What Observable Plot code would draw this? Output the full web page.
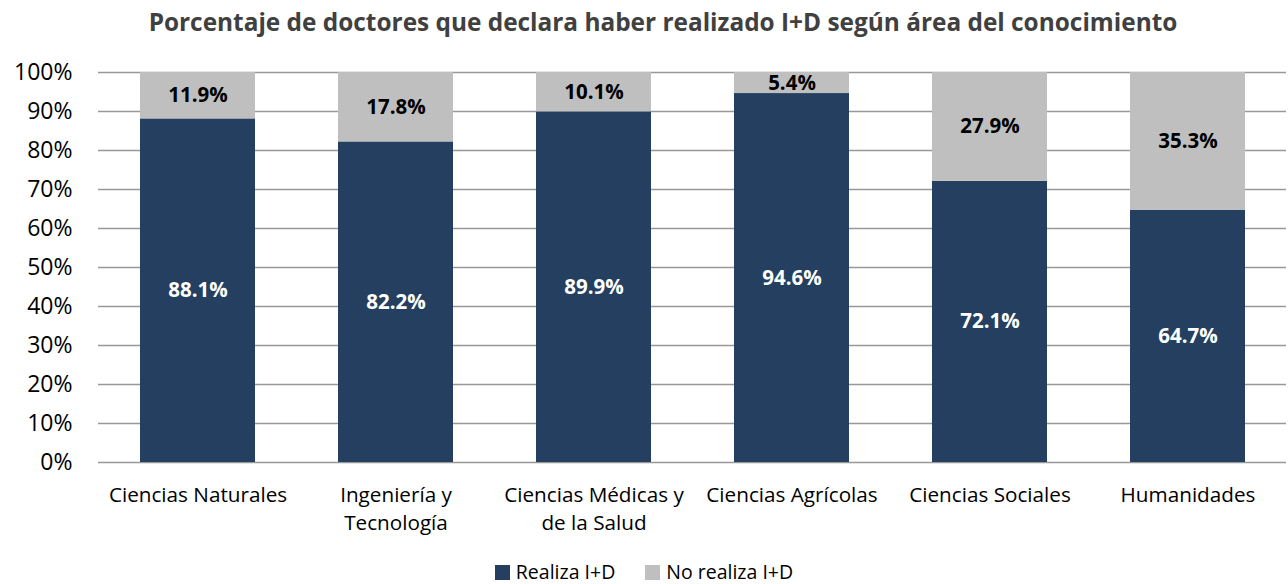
<!DOCTYPE html>
<html>
<head>
<meta charset="utf-8">
<script src="https://cdn.jsdelivr.net/npm/d3@7"></script>
<script src="https://cdn.jsdelivr.net/npm/@observablehq/plot@0.6"></script>
<style>
  body { margin: 0; background: #fff; font-family: "Open Sans", sans-serif; overflow: hidden; }
  #title { height: 44px; line-height: 44px; text-align: center; font-weight: bold; font-size: 24.4px; color: #404040; white-space: nowrap; padding-left: 38px; }
  #chart svg { display: block; }
  #legend { display: flex; justify-content: center; gap: 30px; margin-top: 17px; font-size: 19.5px; line-height: 22px; height: 22px; color: #000; }
  #legend span.sw { display: inline-block; width: 15px; height: 15px; margin-right: 6px; vertical-align: -1px; }
</style>
</head>
<body>
<div id="title">Porcentaje de doctores que declara haber realizado I+D según área del conocimiento</div>
<div id="chart"></div>
<div id="legend"></div>
<script>
const categories = ["Ciencias Naturales", "Ingeniería y\nTecnología", "Ciencias Médicas y\nde la Salud", "Ciencias Agrícolas", "Ciencias Sociales", "Humanidades"];
const series = ["Realiza I+D", "No realiza I+D"];
const realiza = [88.1, 82.2, 89.9, 94.6, 72.1, 64.7];
const noRealiza = [11.9, 17.8, 10.1, 5.4, 27.9, 35.3];
const yTicks = [0, 10, 20, 30, 40, 50, 60, 70, 80, 90, 100];
const colors = ["#243f60", "#bfbfbf"];
const labelColors = ["#ffffff", "#000000"];

const data = [];
categories.forEach((c, i) => {
  data.push({cat: c, series: series[0], value: realiza[i]});
  data.push({cat: c, series: series[1], value: noRealiza[i]});
});

const chart = Plot.plot({
  width: 1288,
  height: 500,
  marginTop: 28,
  marginBottom: 82,
  marginLeft: 98,
  marginRight: 2,
  style: {fontFamily: "Open Sans, sans-serif", color: "#000", background: "#fff"},
  x: {domain: categories, paddingInner: 0.42, paddingOuter: 0.21, label: null},
  y: {domain: [0, 100], label: null},
  color: {domain: series, range: colors},
  marks: [
    Plot.ruleY(yTicks, {stroke: "#989898", strokeWidth: 1.3}),
    Plot.barY(data, Plot.stackY({x: "cat", y: "value", fill: "series", order: series})),
    Plot.text(data, Plot.stackY({
      x: "cat", y: "value", z: "series", order: series,
      text: d => d.value.toFixed(1) + "%",
      fill: d => labelColors[series.indexOf(d.series)],
      fontWeight: "bold", fontSize: 20.5
    })),
    Plot.axisY(yTicks, {tickSize: 0, tickPadding: 26, tickFormat: d => d + "%", fontSize: 23, fill: "#000"}),
    Plot.axisX({tickSize: 0, tickPadding: 20, fontSize: 20.7, lineHeight: 1.35, fill: "#000", label: null})
  ]
});
document.getElementById("chart").appendChild(chart);

const legend = document.getElementById("legend");
series.forEach((s, i) => {
  const item = document.createElement("div");
  const sw = document.createElement("span");
  sw.className = "sw";
  sw.style.background = colors[i];
  item.appendChild(sw);
  item.appendChild(document.createTextNode(s));
  legend.appendChild(item);
});
</script>
</body>
</html>
